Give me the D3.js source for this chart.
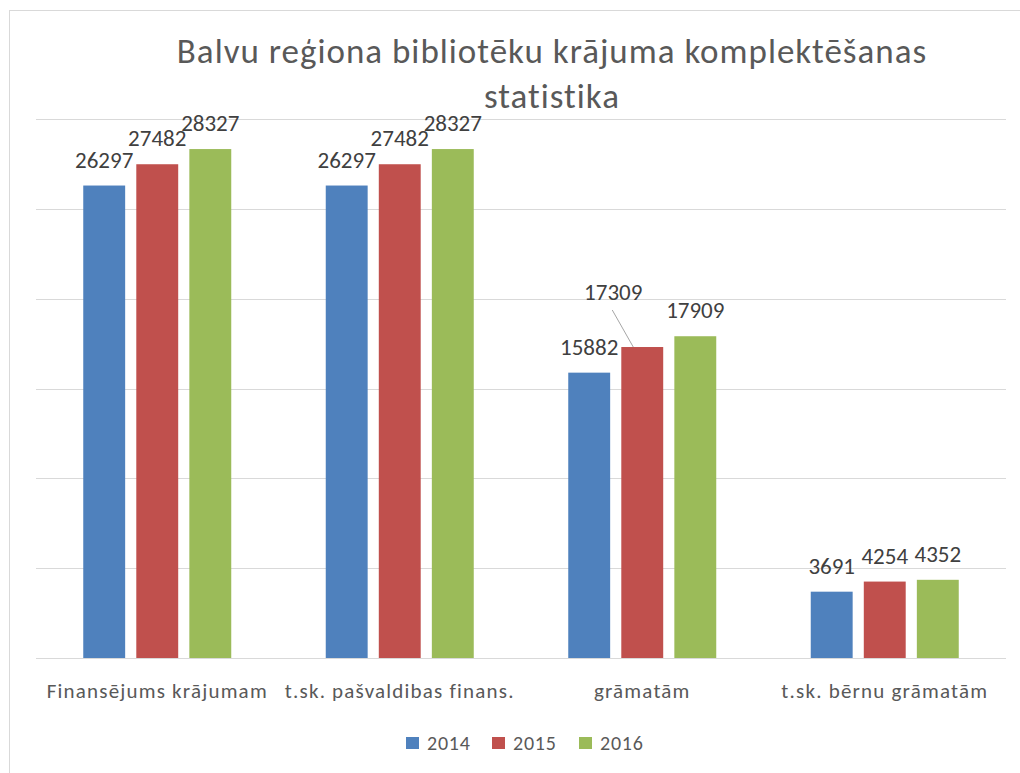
<!DOCTYPE html>
<html><head><meta charset="utf-8">
<script src="https://cdn.jsdelivr.net/npm/d3@7"></script>
<style>body{margin:0;background:#fff}svg{display:block}text{font-family:Carlito,Lato,"Open Sans",sans-serif}</style>
</head><body><svg id="c" width="1020" height="773"></svg>
<script>
const categories = ["Finansējums krājumam", "t.sk. pašvaldibas finans.", "grāmatām", "t.sk. bērnu grāmatām"];
const seriesNames = ["2014", "2015", "2016"];
const v2014 = [26297, 26297, 15882, 3691];
const v2015 = [27482, 27482, 17309, 4254];
const v2016 = [28327, 28327, 17909, 4352];
const colors = ["#4F81BD", "#C0504D", "#9BBB59"];
const yTicks = [0, 5000, 10000, 15000, 20000, 25000, 30000];
const titleLines = ["Balvu reģiona bibliotēku krājuma komplektēšanas", "statistika"];

const values = [v2014, v2015, v2016];
const svg = d3.select("#c");
svg.append("rect").attr("x", 9.5).attr("y", 10.5).attr("width", 1030).attr("height", 800)
  .attr("fill", "#fff").attr("stroke", "#d9d9d9");

const x0 = d3.scaleBand().domain(categories).range([36, 1006]);
const x1 = d3.scaleBand().domain(seriesNames).range([0, 148]).paddingInner(0.21);
const off = (x0.bandwidth() - 148) / 2;
const y = d3.scaleLinear().domain([0, 30000]).range([658, 119]);

svg.append("g").selectAll("line").data(yTicks).join("line")
  .attr("x1", 36).attr("x2", 1006).attr("y1", d => Math.round(y(d)) + 0.5).attr("y2", d => Math.round(y(d)) + 0.5)
  .attr("stroke", "#d9d9d9").attr("stroke-width", 1);

// title
svg.append("g").selectAll("text").data(titleLines).join("text")
  .attr("x", 552).attr("y", (d, i) => 63 + i * 45).attr("text-anchor", "middle")
  .attr("font-size", 35).attr("letter-spacing", 1).attr("fill", "#595959").text(d => d);

// bars
seriesNames.forEach((s, si) => {
  svg.append("g").selectAll("rect").data(categories).join("rect")
    .attr("x", c => x0(c) + off + x1(s))
    .attr("y", (c, ci) => y(values[si][ci]))
    .attr("width", x1.bandwidth())
    .attr("height", (c, ci) => y(0) - y(values[si][ci]))
    .attr("fill", colors[si]);
});

// data labels
seriesNames.forEach((s, si) => {
  categories.forEach((c, ci) => {
    const cx = x0(c) + off + x1(s) + x1.bandwidth() / 2;
    const top = y(values[si][ci]);
    let lx = cx, ly = top - 18;
    if (si === 1 && ci === 2) {
      lx = cx - 29; ly = top - 47;
      svg.append("line").attr("x1", lx - 1).attr("y1", ly + 10).attr("x2", cx - 9).attr("y2", top)
        .attr("stroke", "#a6a6a6").attr("stroke-width", 1);
    }
    svg.append("text").attr("x", lx).attr("y", ly).attr("text-anchor", "middle")
      .attr("font-size", 23).attr("fill", "#404040").text(values[si][ci]);
  });
});

// category labels
svg.append("g").selectAll("text").data(categories).join("text")
  .attr("x", c => x0(c) + x0.bandwidth() / 2).attr("y", 698).attr("text-anchor", "middle")
  .attr("font-size", 21).attr("letter-spacing", 1.2).attr("fill", "#595959").text(c => c);

// legend
const lg = svg.append("g");
const lx0 = [406, 492, 579];
seriesNames.forEach((s, i) => {
  lg.append("rect").attr("x", lx0[i]).attr("y", 737).attr("width", 13).attr("height", 12).attr("fill", colors[i]);
  lg.append("text").attr("x", lx0[i] + 21).attr("y", 750).attr("font-size", 20).attr("letter-spacing", 0.8)
    .attr("fill", "#595959").text(s);
});
</script></body></html>
